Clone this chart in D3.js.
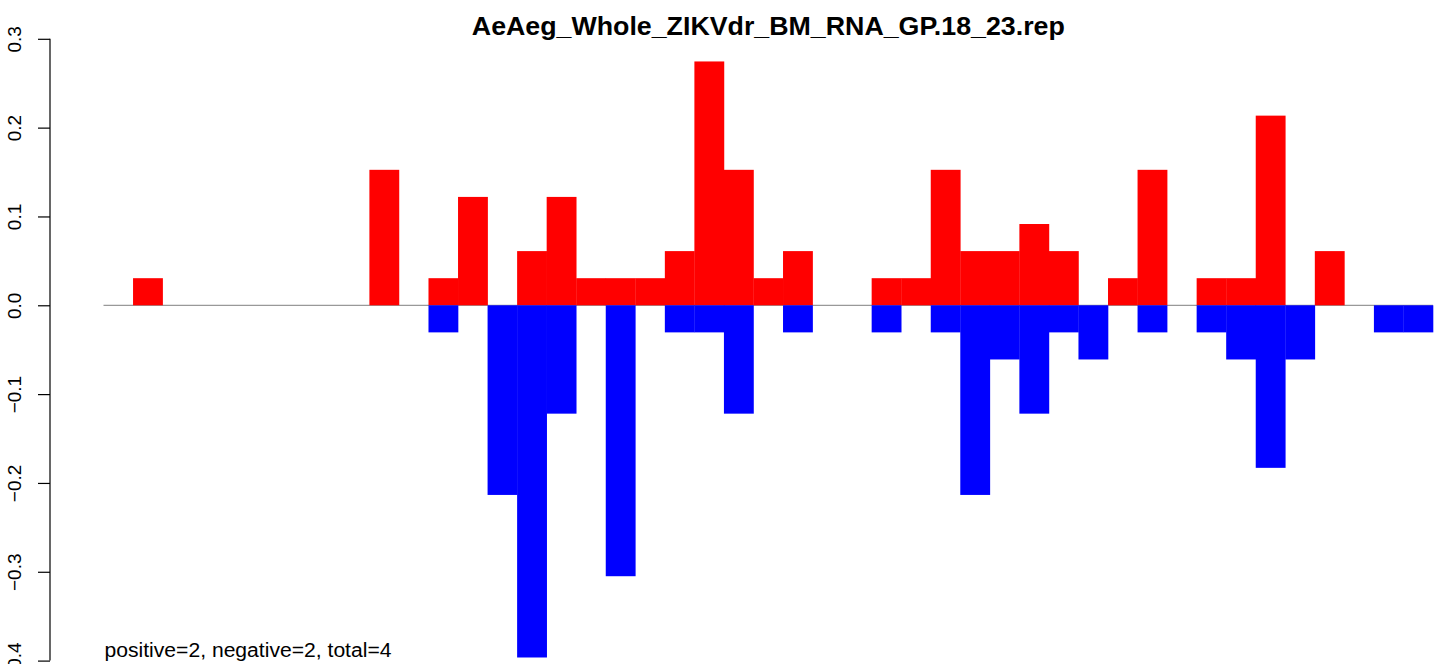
<!DOCTYPE html>
<html>
<head>
<meta charset="utf-8">
<script src="https://cdn.jsdelivr.net/npm/d3@7"></script>
<style>
  html, body { margin: 0; padding: 0; background: #fff; }
  svg { display: block; }
  text { font-family: "Liberation Sans", Arial, Helvetica, sans-serif; }
</style>
</head>
<body>
<svg id="chart" width="1439" height="664"></svg>
<script>
// ---- data ----
const titleText = "AeAeg_Whole_ZIKVdr_BM_RNA_GP.18_23.rep";
const noteText = "positive=2, negative=2, total=4";
const binIndex = d3.range(45);
const positiveValues = [
  0, 0.0305, 0, 0, 0, 0, 0, 0, 0, 0.1525,
  0, 0.0305, 0.122, 0, 0.061, 0.122, 0.0305, 0.0305, 0.0305, 0.061,
  0.2745, 0.1525, 0.0305, 0.061, 0, 0, 0.0305, 0.0305, 0.1525, 0.061,
  0.061, 0.0915, 0.061, 0, 0.0305, 0.1525, 0, 0.0305, 0.0305, 0.2135,
  0, 0.061, 0, 0, 0
];
const negativeValues = [
  0, 0, 0, 0, 0, 0, 0, 0, 0, 0,
  0, -0.0305, 0, -0.2135, -0.3965, -0.122, 0, -0.305, 0, -0.0305,
  -0.0305, -0.122, 0, -0.0305, 0, 0, -0.0305, 0, -0.0305, -0.2135,
  -0.061, -0.122, -0.0305, -0.061, 0, -0.0305, 0, -0.0305, -0.061, -0.183,
  -0.061, 0, 0, -0.0305, -0.0305
];
const yTicks = [-0.4, -0.3, -0.2, -0.1, 0.0, 0.1, 0.2, 0.3];

// ---- layout ----
const svg = d3.select("#chart");
const x = d3.scaleBand().domain(binIndex).range([103.5, 1433]).padding(0);
const y = d3.scaleLinear().domain([-0.4, 0.3]).range([660.6, 38.8]);

// baseline
svg.append("line")
  .attr("x1", 103.5).attr("x2", 1433)
  .attr("y1", y(0)).attr("y2", y(0))
  .attr("stroke", "#999999").attr("stroke-width", 1.2);

// positive bars
svg.append("g").selectAll("rect")
  .data(binIndex.filter(i => positiveValues[i] > 0))
  .join("rect")
  .attr("x", i => x(i))
  .attr("width", x.bandwidth() + 0.3)
  .attr("y", i => y(positiveValues[i]))
  .attr("height", i => y(0) - y(positiveValues[i]))
  .attr("fill", "#ff0000");

// negative bars
svg.append("g").selectAll("rect")
  .data(binIndex.filter(i => negativeValues[i] < 0))
  .join("rect")
  .attr("x", i => x(i))
  .attr("width", x.bandwidth() + 0.3)
  .attr("y", y(0))
  .attr("height", i => y(negativeValues[i]) - y(0))
  .attr("fill", "#0000ff");

// y axis
const axis = d3.axisLeft(y).tickValues(yTicks).tickSize(12).tickFormat(d3.format(".1f"));
const gAxis = svg.append("g").attr("transform", "translate(50,0)").call(axis);
gAxis.select(".domain").attr("d", `M0,${y(0.3)}V${y(-0.4)}`).attr("stroke", "#000").attr("stroke-width", 1.2);
gAxis.selectAll(".tick line").attr("stroke", "#000").attr("stroke-width", 1.2);
gAxis.selectAll(".tick text")
  .attr("x", null).attr("dy", null)
  .attr("transform", "translate(-29.5,0) rotate(-90)")
  .attr("text-anchor", "middle")
  .attr("font-size", 19)
  .attr("fill", "#000")
  .text(d => d3.format(".1f")(d).replace("-", "\u2212"));

// title
svg.append("text")
  .attr("x", 768.3).attr("y", 35)
  .attr("text-anchor", "middle")
  .attr("font-size", 25)
  .attr("font-weight", "bold")
  .attr("textLength", 593)
  .attr("lengthAdjust", "spacingAndGlyphs")
  .text(titleText);

// note
svg.append("text")
  .attr("x", 104.5).attr("y", 657)
  .attr("font-size", 19.5)
  .attr("textLength", 287)
  .attr("lengthAdjust", "spacingAndGlyphs")
  .text(noteText);
</script>
</body>
</html>
